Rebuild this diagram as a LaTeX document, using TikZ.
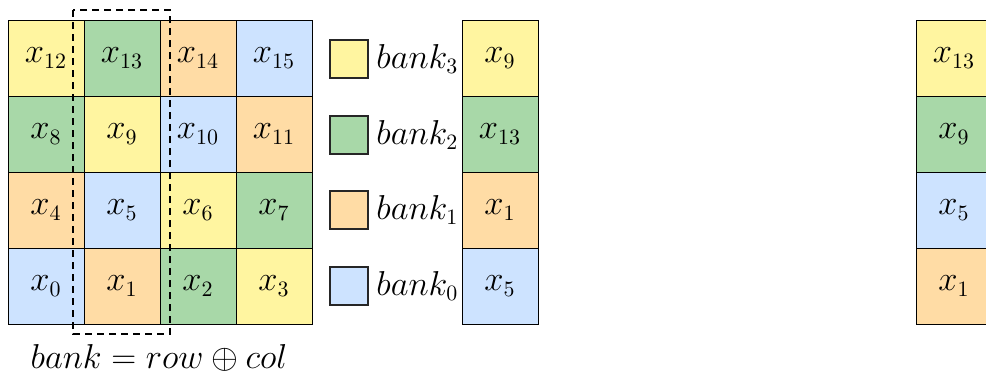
\documentclass[tikz,border=0pt]{standalone}
\usepackage{amsmath}
\definecolor{bkY}{RGB}{255,245,160}
\definecolor{bkG}{RGB}{168,216,168}
\definecolor{bkO}{RGB}{255,220,165}
\definecolor{bkB}{RGB}{205,227,255}
\begin{document}
\begin{tikzpicture}[x=0.5pt,y=-0.5pt,
  cell/.style={draw=black,line width=0.5pt,minimum size=38pt,inner sep=0pt,font=\fontsize{16}{19}\selectfont},
  legbox/.style={draw=black!85,line width=0.6pt,minimum size=19pt,inner sep=0pt},
  leglabel/.style={anchor=west,inner sep=0pt,font=\fontsize{16}{19}\selectfont},
  sel/.style={draw=black,line width=0.9pt,dash pattern=on 3.6pt off 2.4pt}]
\useasboundingbox (0,0) rectangle (986,375);
\clip (0,0) rectangle (986,375);
% grid (row 3 at top)
\node[cell,fill=bkY] (c12) at (46,58) {$x_{12}$};
\node[cell,fill=bkG] (c13) at (122,58) {$x_{13}$};
\node[cell,fill=bkO] (c14) at (198,58) {$x_{14}$};
\node[cell,fill=bkB] (c15) at (274,58) {$x_{15}$};
\node[cell,fill=bkG] (c8) at (46,134) {$x_{8}$};
\node[cell,fill=bkY] (c9) at (122,134) {$x_{9}$};
\node[cell,fill=bkB] (c10) at (198,134) {$x_{10}$};
\node[cell,fill=bkO] (c11) at (274,134) {$x_{11}$};
\node[cell,fill=bkO] (c4) at (46,210) {$x_{4}$};
\node[cell,fill=bkB] (c5) at (122,210) {$x_{5}$};
\node[cell,fill=bkY] (c6) at (198,210) {$x_{6}$};
\node[cell,fill=bkG] (c7) at (274,210) {$x_{7}$};
\node[cell,fill=bkB] (c0) at (46,286) {$x_{0}$};
\node[cell,fill=bkO] (c1) at (122,286) {$x_{1}$};
\node[cell,fill=bkG] (c2) at (198,286) {$x_{2}$};
\node[cell,fill=bkY] (c3) at (274,286) {$x_{3}$};
% dashed selection
\draw[sel] (73,10) rectangle (170,334);
% formula
\node[inner sep=0pt,font=\fontsize{16}{19}\selectfont] (formula) at (159,358) {$bank = row \oplus col$};
% legend
\node[legbox,fill=bkY] (l3) at (349,59) {};
\node[legbox,fill=bkG] (l2) at (349,135) {};
\node[legbox,fill=bkO] (l1) at (349,210) {};
\node[legbox,fill=bkB] (l0) at (349,286) {};
\node[leglabel] (t3) at (376,59) {$bank_3$};
\node[leglabel] (t2) at (376,135) {$bank_2$};
\node[leglabel] (t1) at (376,210) {$bank_1$};
\node[leglabel] (t0) at (376,286) {$bank_0$};
% middle column
\node[cell,fill=bkY] (m3) at (500,58) {$x_{9}$};
\node[cell,fill=bkG] (m2) at (500,134) {$x_{13}$};
\node[cell,fill=bkO] (m1) at (500,210) {$x_{1}$};
\node[cell,fill=bkB] (m0) at (500,286) {$x_{5}$};
% right column (clipped)
\node[cell,fill=bkY] (r3) at (954,58) {$x_{13}$};
\node[cell,fill=bkG] (r2) at (954,134) {$x_{9}$};
\node[cell,fill=bkB] (r1) at (954,210) {$x_{5}$};
\node[cell,fill=bkO] (r0) at (954,286) {$x_{1}$};
\end{tikzpicture}
\end{document}
